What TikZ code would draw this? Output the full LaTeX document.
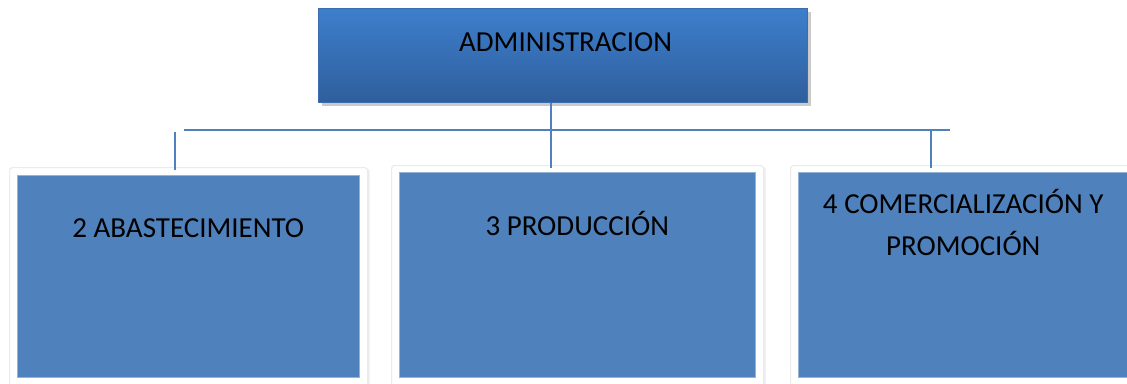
\documentclass[tikz,border=0pt]{standalone}
\usepackage{fontspec}
\setmainfont{Carlito}
\usetikzlibrary{shadows,calc}
\definecolor{acc}{HTML}{4F81BD}
\definecolor{topL}{HTML}{3D7FCC}
\definecolor{topD}{HTML}{2F5E9C}
\definecolor{topB}{HTML}{3B6DB0}
\tikzset{
  topbox/.style={rectangle, draw=topB, line width=1.2pt, top color=topL, bottom color=topD,
    anchor=north west, inner sep=0pt,
    drop shadow={shadow xshift=3pt, shadow yshift=-3pt, opacity=0.35, fill=black!60}},
  frame/.style={rectangle, fill=white, draw=black!8, line width=1.2pt, rounded corners=3pt,
    anchor=north west, inner sep=0pt,
    drop shadow={shadow xshift=2pt, shadow yshift=-1pt, opacity=0.15, fill=black!50}},
  blue box/.style={rectangle, fill=acc, draw=acc!60!white, line width=0.5pt, anchor=north west, inner sep=0pt},
  txt/.style={font=\fontsize{29}{42}\selectfont, text=black, align=center, inner sep=0pt},
  conn/.style={draw=acc, line width=1.6pt}
}
\begin{document}
\begin{tikzpicture}[x=1pt,y=-1pt]
\useasboundingbox (0,0) rectangle (1127,383);
% top box
\node[topbox, minimum width=489pt, minimum height=94pt] (top) at (318,8) {};
\node[txt, anchor=base] (ttop) at ($(top.north)+(2.5,43)$) {ADMINISTRACION};
% frames
\node[frame, minimum width=358pt, minimum height=220pt] (f1) at (9,167) {};
\node[frame, minimum width=372pt, minimum height=222pt] (f2) at (391,165) {};
\node[frame, minimum width=345pt, minimum height=222pt] (f3) at (790,165) {};
% blue boxes
\node[blue box, minimum width=342pt, minimum height=202pt] (b1) at (17,175) {};
\node[blue box, minimum width=356pt, minimum height=205pt] (b2) at (399,172) {};
\node[blue box, minimum width=330pt, minimum height=205pt] (b3) at (798,172) {};
% texts
\node[txt, anchor=base] (t1) at ($(b1.north)+(0,62)$) {2 ABASTECIMIENTO};
\node[txt, anchor=base] (t2) at ($(b2.north)+(0,63)$) {3 PRODUCCIÓN};
\node[txt, anchor=base] (t3a) at ($(b3.north)+(0,41)$) {4 COMERCIALIZACIÓN Y};
\node[txt, anchor=base] (t3b) at ($(t3a.base)+(0,42)$) {PROMOCIÓN};
% connectors
\coordinate (ts) at (551,103);
\coordinate (hl) at (184,130);
\coordinate (hr) at (950,130);
\coordinate (v1a) at (175,132);
\coordinate (v1b) at (175,170);
\coordinate (v2b) at (551,168);
\coordinate (v3a) at (931,130);
\coordinate (v3b) at (931,168);
\draw[conn] (hl) -- (hr);
\draw[conn] (ts) -- (v2b);
\draw[conn] (v1a) -- (v1b);
\draw[conn] (v3a) -- (v3b);
\end{tikzpicture}
\end{document}
